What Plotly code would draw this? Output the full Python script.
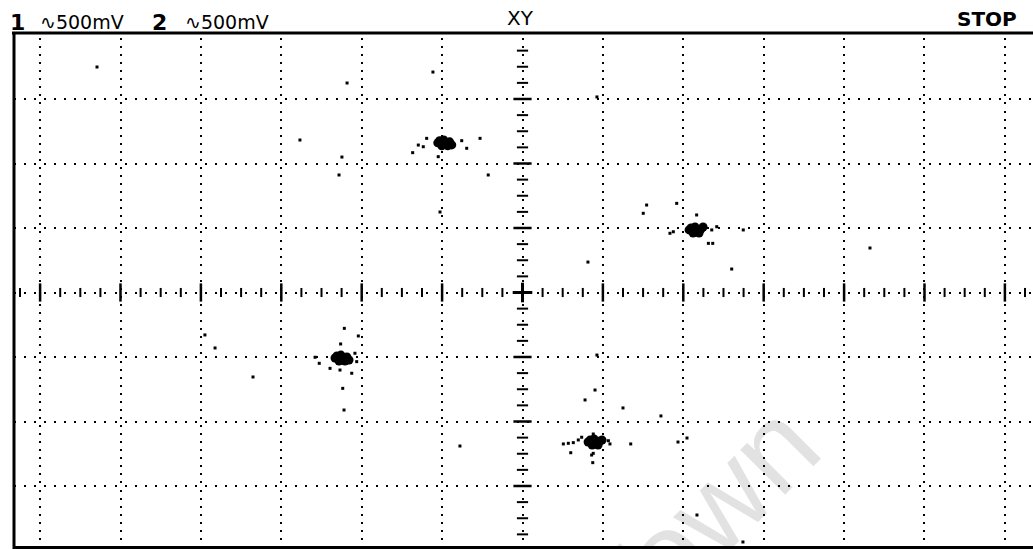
import numpy as np
import plotly.graph_objects as go

# ---------------- data (volts, 500 mV/div on both channels) ----------------
VOLTS_PER_DIV = 0.5

# dense core samples of the four constellation points (channel 1 = X, channel 2 = Y)
core_x = [-0.527, -0.490, -0.453, -0.502, -0.465, -0.440, -0.484, -0.515,
          1.036, 1.073, 1.110, 1.061, 1.098, 1.123, 1.079, 1.048,
          -1.166, -1.129, -1.092, -1.141, -1.104, -1.079, -1.123, -1.154,
          0.408, 0.445, 0.482, 0.433, 0.470, 0.495, 0.451, 0.420]
core_y = [1.160, 1.183, 1.168, 1.137, 1.137, 1.144, 1.160, 1.176,
          0.485, 0.508, 0.492, 0.461, 0.461, 0.508, 0.485, 0.500,
          -0.508, -0.485, -0.500, -0.531, -0.531, -0.523, -0.508, -0.492,
          -1.159, -1.136, -1.151, -1.182, -1.182, -1.144, -1.159, -1.144]

# sparse samples (transitions / noise)
sparse_x = [-0.596, -0.648, -0.617, -0.683, -0.378, -0.347, -0.264, -0.524, -0.213,
            0.772, 0.751, 0.959, 1.083, 0.917, 0.938, 1.208, 1.177, 1.156, 1.183, 1.373, 1.301,
            -1.108, -1.131, -1.021, -1.290, -1.264, -1.197, -1.135, -1.062, -1.042, -1.031, -1.118,
            -1.110, -1.676, -1.975, -1.912,
            0.254, 0.285, 0.316, 0.347, 0.368, 0.300, 0.440, 0.544, 0.534, 0.673, 0.440, 0.430, 0.437,
            -2.646, -1.091, -0.557, -1.384, -1.123, -1.141, -0.513, 0.463, 0.407, 2.161,
            0.463, 0.451, 0.389, 0.625, 0.861, 0.967, 1.023, 1.085, 1.371, -0.389]
sparse_y = [1.195, 1.143, 1.130, 1.084, 1.177, 1.118, 1.195, 1.053, 0.911,
            0.678, 0.614, 0.691, 0.601, 0.459, 0.471, 0.510, 0.485, 0.381, 0.381, 0.485, 0.182,
            -0.278, -0.399, -0.337, -0.502, -0.549, -0.588, -0.601, -0.626, -0.471, -0.536, -0.743,
            -0.911, -0.655, -0.329, -0.430,
            -1.174, -1.169, -1.164, -1.143, -1.122, -1.242, -1.097, -1.174, -1.149, -1.174, -1.247, -1.260, -1.319,
            1.748, 1.624, 1.709, 1.182, 1.050, 0.911, 0.624, 1.516, 0.236, 0.345,
            -0.485, -0.756, -0.833, -0.895, -0.957, -1.159, -1.128, -1.725, -1.934, -1.190]

header_ch = ["1", "2"]
header_scale = ["∿500mV", "∿500mV"]
mode_label = "XY"
run_label = "STOP"
watermark = "Town"

# ---------------- geometry helpers ----------------
W, H = 1033, 549
ML, MT = 14, 38
PW, PH = W - ML, H - MT
X_RANGE = [-3.1623, 3.1748]
Y_RANGE = [-1.9884, 1.9729]


def px_x(p):
    return (p - ML) / PW


def px_y(p):
    return (H - p) / PH


fig = go.Figure()

# graticule tick marks on the centre axes (every 1/4 division)
q = VOLTS_PER_DIV / 4
kx = np.arange(-25, 26)
ky = np.arange(-15, 16)
minor_x = [k * q for k in kx if k % 4 != 0]
major_x = [k * q for k in kx if k % 4 == 0 and k != 0]
minor_y = [k * q for k in ky if k % 4 != 0]
major_y = [k * q for k in ky if k % 4 == 0 and k != 0]

fig.add_trace(go.Scatter(x=minor_x, y=[0] * len(minor_x), mode="markers", hoverinfo="skip",
                         marker=dict(symbol="line-ns", size=6.5, line=dict(width=2, color="black"))))
fig.add_trace(go.Scatter(x=major_x, y=[0] * len(major_x), mode="markers", hoverinfo="skip",
                         marker=dict(symbol="line-ns", size=13, line=dict(width=2.5, color="black"))))
fig.add_trace(go.Scatter(x=[0] * len(minor_y), y=minor_y, mode="markers", hoverinfo="skip",
                         marker=dict(symbol="line-ew", size=8, line=dict(width=2, color="black"))))
fig.add_trace(go.Scatter(x=[0] * len(major_y), y=major_y, mode="markers", hoverinfo="skip",
                         marker=dict(symbol="line-ew", size=13, line=dict(width=2.5, color="black"))))
fig.add_trace(go.Scatter(x=[0, 0], y=[0, 0], mode="markers", hoverinfo="skip",
                         marker=dict(symbol=["line-ns", "line-ew"], size=14,
                                     line=dict(width=3, color="black"))))

# measured samples
fig.add_trace(go.Scatter(x=sparse_x, y=sparse_y, mode="markers", hoverinfo="skip",
                         marker=dict(symbol="square", size=3, color="black", line=dict(width=0))))
fig.add_trace(go.Scatter(x=core_x, y=core_y, mode="markers", hoverinfo="skip",
                         marker=dict(symbol="circle", size=9, color="black", line=dict(width=0))))

shapes = [
    # frame
    dict(type="line", xref="paper", yref="paper", x0=px_x(12), x1=1, y0=px_y(33), y1=px_y(33),
         line=dict(color="black", width=3)),
    dict(type="line", xref="paper", yref="paper", x0=0, x1=0, y0=0, y1=px_y(33),
         line=dict(color="black", width=3)),
    dict(type="line", xref="paper", yref="paper", x0=0, x1=1, y0=px_y(547.5), y1=px_y(547.5),
         line=dict(color="black", width=3)),
    # watermark
    dict(type="rect", xref="paper", yref="paper", x0=px_x(680), x1=px_x(700), y0=px_y(525), y1=px_y(505),
         line=dict(width=0), fillcolor="rgba(0,0,0,0)", layer="below",
         label=dict(text=watermark, textangle=-45, textposition="middle center",
                    font=dict(size=120, color="#e2e2e2", family="Liberation Sans"))),
]

hdr_font = dict(family="DejaVu Sans", size=19, color="black")
annotations = [
    dict(text="<b>" + header_ch[0] + "</b>", x=px_x(8), y=px_y(23), xanchor="left", yanchor="middle",
         font=dict(family="DejaVu Sans", size=22, color="black")),
    dict(text=header_scale[0], x=px_x(38), y=px_y(22), xanchor="left", yanchor="middle", font=hdr_font),
    dict(text="<b>" + header_ch[1] + "</b>", x=px_x(150), y=px_y(23), xanchor="left", yanchor="middle",
         font=dict(family="DejaVu Sans", size=22, color="black")),
    dict(text=header_scale[1], x=px_x(183), y=px_y(22), xanchor="left", yanchor="middle", font=hdr_font),
    dict(text=mode_label, x=px_x(520), y=px_y(18), xanchor="center", yanchor="middle",
         font=dict(family="DejaVu Sans", size=20, color="black")),
    dict(text="<b>" + run_label + "</b>", x=px_x(1019), y=px_y(19), xanchor="right", yanchor="middle",
         font=dict(family="DejaVu Sans", size=20, color="black")),
]
for a in annotations:
    a.update(xref="paper", yref="paper", showarrow=False)

fig.update_layout(
    width=W, height=H,
    margin=dict(l=ML, r=0, t=MT, b=0, pad=0),
    paper_bgcolor="white", plot_bgcolor="white",
    showlegend=False,
    shapes=shapes,
    annotations=annotations,
    xaxis=dict(range=X_RANGE, tick0=0, dtick=VOLTS_PER_DIV, showgrid=True, gridcolor="black",
               gridwidth=2, griddash="2px,6.0625px", zeroline=False, showticklabels=False,
               ticks="", showline=False, fixedrange=True),
    yaxis=dict(range=Y_RANGE, tick0=0, dtick=VOLTS_PER_DIV, showgrid=True, gridcolor="black",
               gridwidth=2, griddash="2px,8.05px", zeroline=False, showticklabels=False,
               ticks="", showline=False, fixedrange=True),
)

fig.write_html("out.html")
